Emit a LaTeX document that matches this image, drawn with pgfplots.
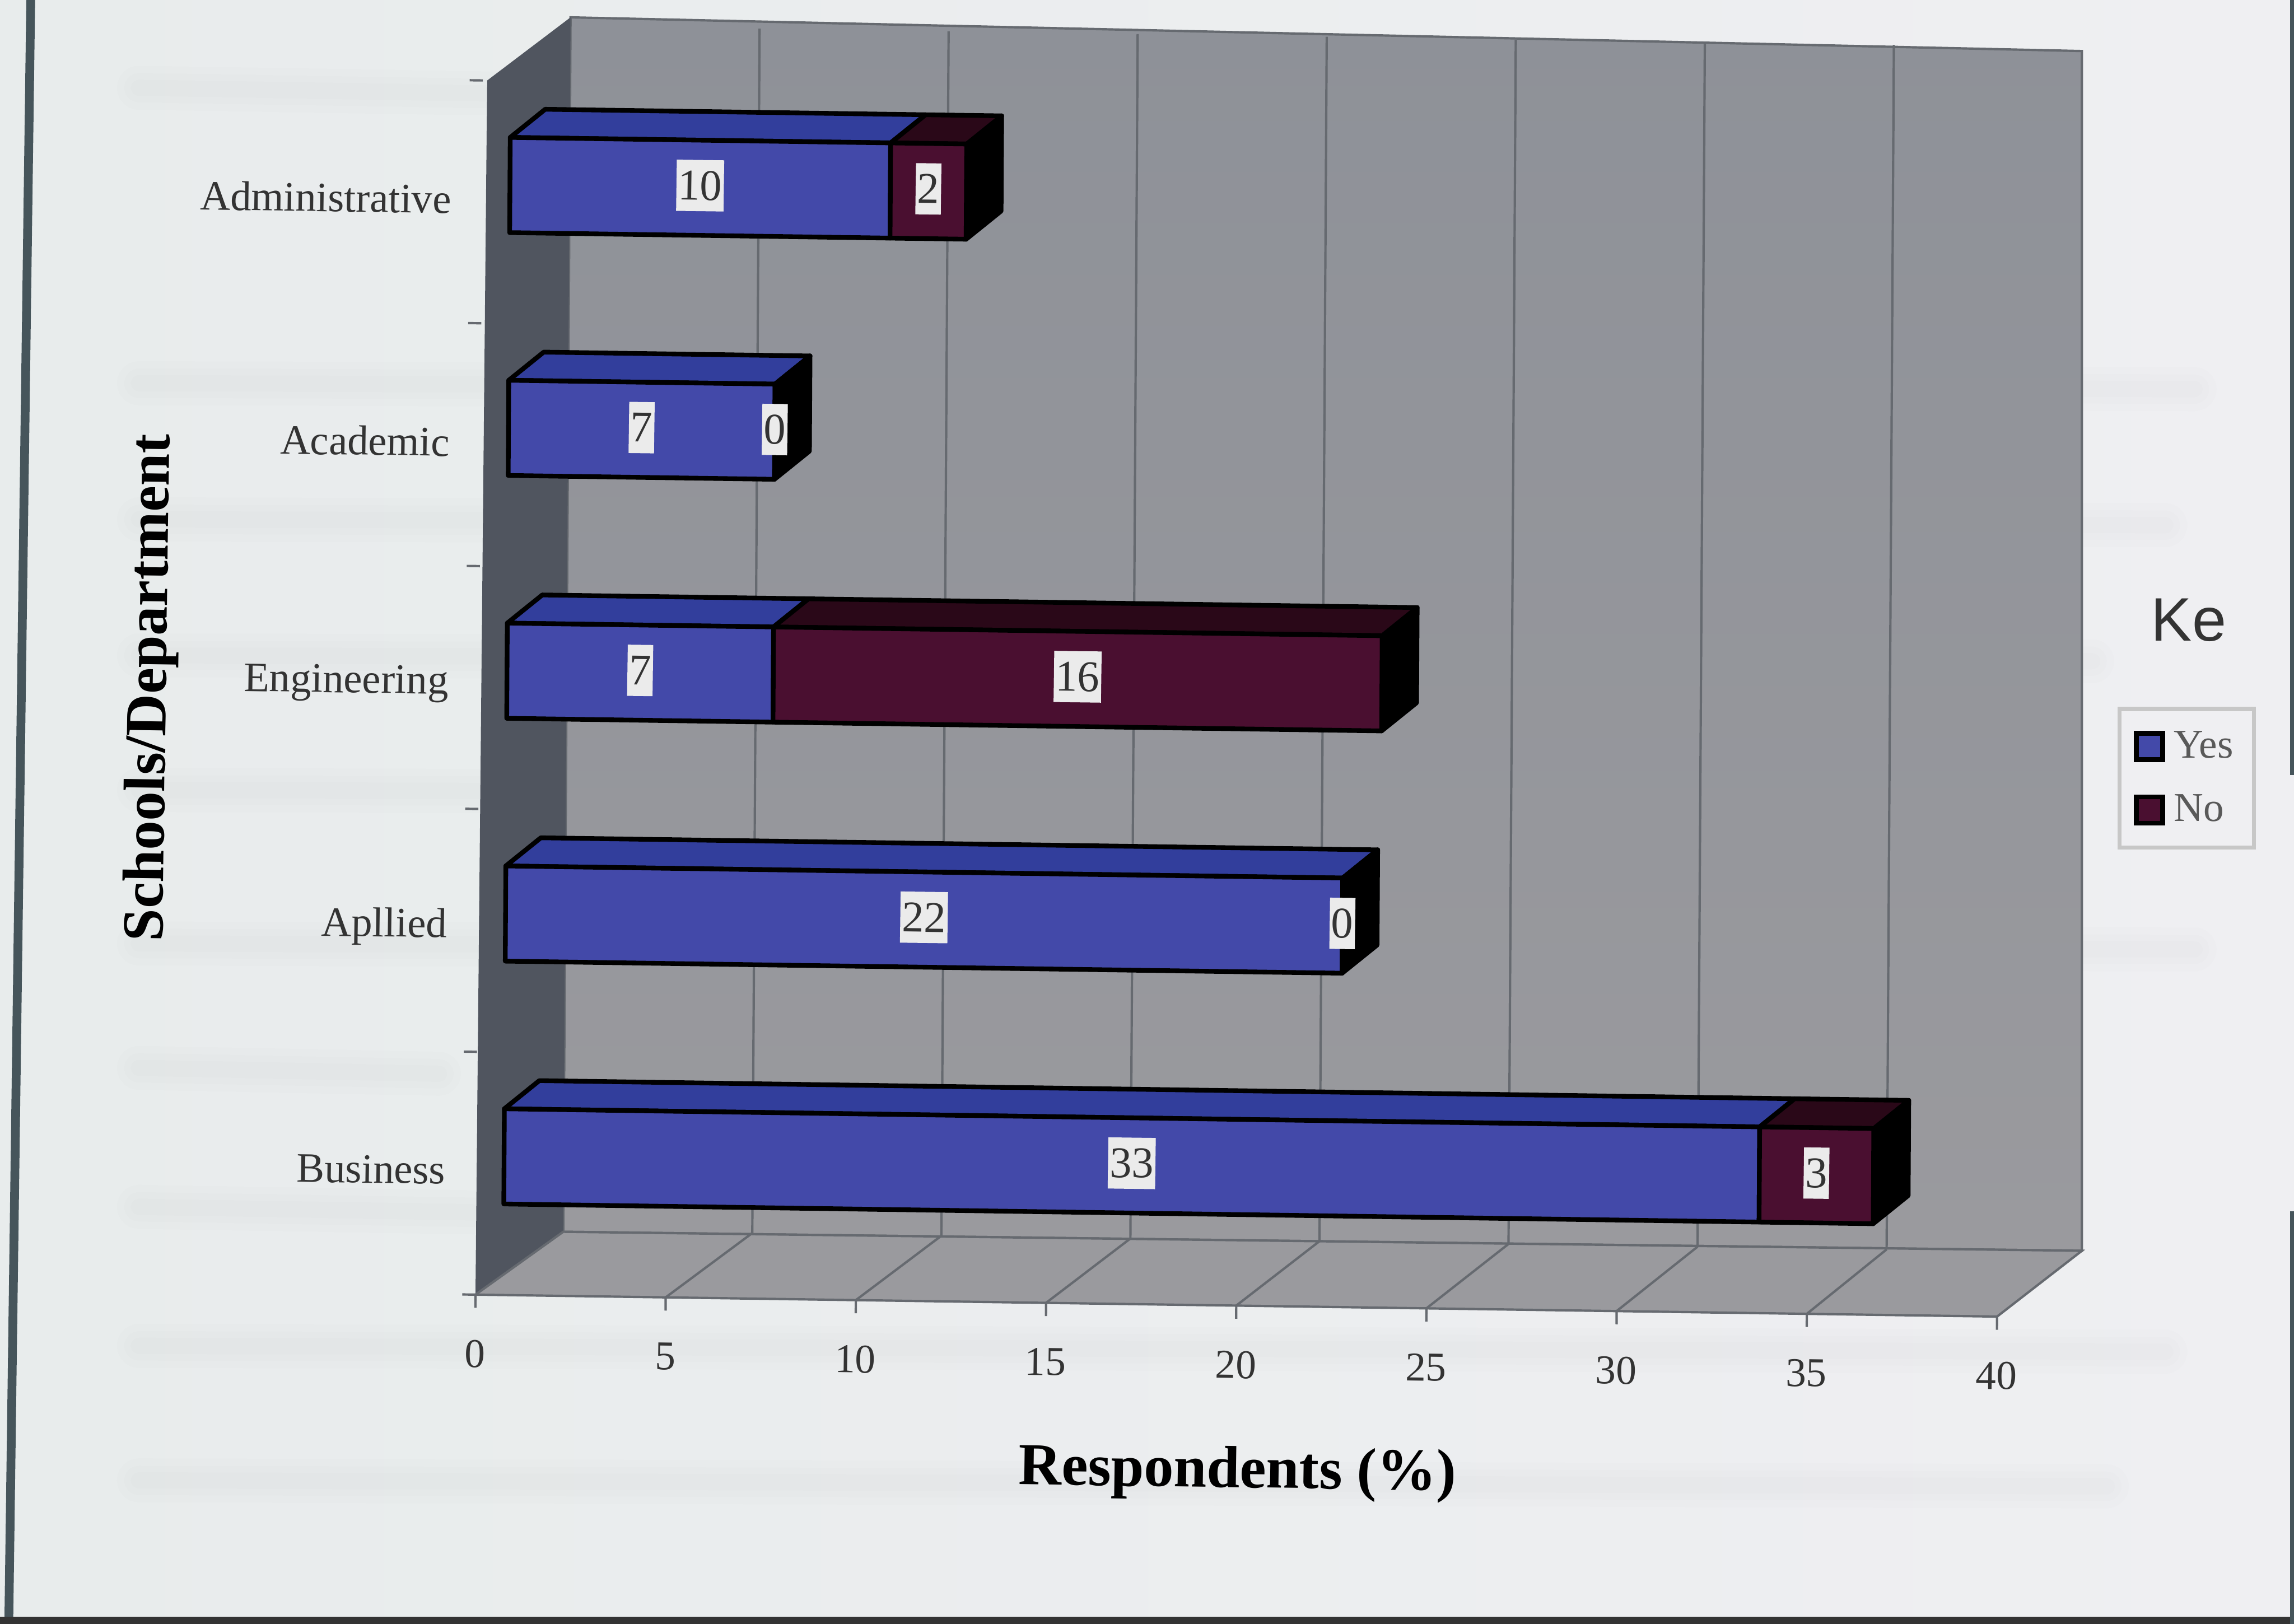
\documentclass[border=0pt]{standalone}
\usepackage{pgfplots}
\usepackage{pgfplotstable}
\usepackage{fontspec}
\pgfplotsset{compat=1.18}
\setmainfont{Liberation Serif}
\newfontfamily\keyfont{Liberation Sans}

\definecolor{yesfront}{HTML}{4349A9}
\definecolor{yestop}{HTML}{323E9C}
\definecolor{nofront}{HTML}{4A0F30}
\definecolor{notop}{HTML}{2A0818}
\definecolor{wallback}{HTML}{8E9198}
\definecolor{wallside}{HTML}{50555F}
\definecolor{wallfloor}{HTML}{9A9A9E}
\definecolor{edgegrey}{HTML}{666A70}
\definecolor{inkgrey}{HTML}{333333}
\definecolor{paperleft}{HTML}{E8ECEC}
\definecolor{paperright}{HTML}{EFEFF2}
\definecolor{sheetedge}{HTML}{46555B}

% Percentages of respondents per school or department
\pgfplotstableread{
row yes no
0   33  3
1   22  0
2   7   16
3   7   0
4   10  2
}\respondents

% Depth of the bars, expressed in axis units
\def\barx{0.73}
\def\bardx{0.915}
\def\bardy{0.118}

% One stacked three-dimensional bar
\newcommand\drawschool[1]{%
  \pgfplotstablegetelem{#1}{yes}\of\respondents\edef\yesval{\pgfplotsretval}%
  \pgfplotstablegetelem{#1}{no}\of\respondents\edef\noval{\pgfplotsretval}%
  \pgfmathsetmacro\ybot{#1+0.375}%
  \pgfmathsetmacro\ytop{#1+0.767}%
  \pgfmathsetmacro\ymid{#1+0.58}%
  \pgfmathsetmacro\ya{\ytop+\bardy}%
  \pgfmathsetmacro\yb{\ybot+\bardy}%
  \pgfmathsetmacro\xs{\barx}%
  \pgfmathsetmacro\xm{\barx+\yesval}%
  \pgfmathsetmacro\xe{\barx+\yesval+\noval}%
  \pgfmathsetmacro\xsb{\xs+\bardx}%
  \pgfmathsetmacro\xmb{\xm+\bardx}%
  \pgfmathsetmacro\xeb{\xe+\bardx}%
  \pgfmathsetmacro\xlabA{\barx+\yesval/2}%
  \pgfmathsetmacro\xlabB{\barx+\yesval+\noval/2}%
  % side face
  \addplot[fill=black,draw=black,barline,forget plot] coordinates
    {(\xe,\ybot) (\xe,\ytop) (\xeb,\ya) (\xeb,\yb)} -- cycle;
  % top faces
  \addplot[fill=yestop,draw=black,barline,forget plot] coordinates
    {(\xs,\ytop) (\xm,\ytop) (\xmb,\ya) (\xsb,\ya)} -- cycle;
  \addplot[fill=notop,draw=black,barline,forget plot] coordinates
    {(\xm,\ytop) (\xe,\ytop) (\xeb,\ya) (\xmb,\ya)} -- cycle;
  % front faces
  \addplot[fill=yesfront,draw=black,barline,forget plot] coordinates
    {(\xs,\ybot) (\xm,\ybot) (\xm,\ytop) (\xs,\ytop)} -- cycle;
  \addplot[fill=nofront,draw=black,barline,forget plot] coordinates
    {(\xm,\ybot) (\xe,\ybot) (\xe,\ytop) (\xm,\ytop)} -- cycle;
  % value labels
  \edef\tmp{\noexpand\node[valuelabel] at (axis cs:\xlabA,\ymid) {\yesval};
            \noexpand\node[valuelabel] at (axis cs:\xlabB,\ymid) {\noval};}%
  \tmp
}

% Show-through from the reverse of the printed sheet
\newcommand\ghost[3]{%
  \foreach \w in {30,20,11}
    \draw[black!45,line width=\w*0.5pt,opacity=0.016,line cap=round]
      (#1*0.5pt,555pt-#3*0.5pt) -- (#2*0.5pt,555pt-#3*0.5pt-2pt);
}

\tikzset{
  barline/.style={line width=1.6pt,line join=round},
  valuelabel/.style={fill=white!92!black,text=inkgrey,inner xsep=0.6pt,inner ysep=0pt,
    minimum height=17.5pt,font=\fontsize{15}{15}\selectfont,rotate=-0.8}}

\begin{document}
\begin{tikzpicture}
  \path[use as bounding box] (0,0) rectangle (784pt,555pt);
  \shade[left color=paperleft,right color=paperright] (0,0) rectangle (784pt,555pt);
  \ghost{95}{340}{60}
  \ghost{95}{1500}{262}
  \ghost{95}{1480}{355}
  \ghost{95}{1430}{448}
  \ghost{95}{1400}{540}
  \ghost{95}{1500}{645}
  \ghost{95}{300}{730}
  \ghost{95}{340}{825}
  \ghost{95}{1480}{920}
  \ghost{95}{1440}{1012}
  % sheet edges
  \draw[color=sheetedge,line width=3pt] (10.5pt,555pt) -- (3pt,0pt);
  \fill[black!80] (0,0) rectangle (784pt,2.5pt);
  \fill[sheetedge] (782.6pt,290pt) rectangle (784pt,555pt);
  \fill[sheetedge] (782.6pt,0pt) rectangle (784pt,141pt);

  \begin{axis}[
    x={(13pt,-0.1875pt)}, y={(0.5pt,83pt)},
    at={(162.5pt,112.5pt)}, anchor=origin,
    xmin=0, xmax=40, ymin=0, ymax=5,
    clip=false,
    axis x line=bottom, axis y line=left,
    axis line style={draw=none,-},
    tick align=outside, xtick pos=left, ytick pos=left,
    major tick length=4.5pt,
    tick style={draw=edgegrey,line width=0.8pt},
    xtick={0,5,...,40},
    ytick={0,1,2,3,4,5}, yticklabels={},
    extra y ticks={0.51,1.51,2.51,3.51,4.51},
    extra y tick labels={Business,Apllied,Engineering,Academic,Administrative},
    extra y tick style={tick style={draw=none}},
    /pgf/number format/assume math mode=true,
    xticklabel style={font=\fontsize{14}{14}\selectfont,text=inkgrey,rotate=-0.8,yshift=-7.5pt},
    yticklabel style={font=\fontsize{14.3}{14.3}\selectfont,text=inkgrey,rotate=-0.8,xshift=-2.5pt},
    xlabel={Respondents (\%)},
    ylabel={Schools/Department},
    xlabel style={at={(axis cs:20.06,-0.69)},anchor=center,rotate=-0.8,
      font=\fontsize{20.3}{20.3}\selectfont\bfseries},
    ylabel style={at={(axis cs:-8.6,2.48)},anchor=center,rotate=-0.8,
      font=\fontsize{20}{20}\selectfont\bfseries},
    legend style={at={(axis cs:44.9,2.228)},anchor=center,draw=black!22,line width=1.4pt,
      fill=paperright,font=\fontsize{14}{14}\selectfont,text=black!65,
      inner xsep=5pt,inner ysep=5.5pt,row sep=7pt,
      /tikz/every odd column/.append style={column sep=1pt}},
    legend image code/.code={
      \draw[#1] (0pt,-4.5pt) rectangle (9pt,4.5pt);
    },
    legend cell align=left,
  ]
    % chart walls and floor
    \addplot[shade,top color=wallback,bottom color=wallfloor,draw=edgegrey,line width=0.8pt,forget plot]
      coordinates {(2.297,0.264) (42.22,0.276) (42.03,5.216) (2.297,5.265)} -- cycle;
    \addplot[fill=wallside,draw=none,forget plot]
      coordinates {(0,0) (0.115,5) (2.297,5.265) (2.297,0.264)} -- cycle;
    \addplot[fill=wallfloor,draw=edgegrey,line width=0.8pt,forget plot]
      coordinates {(0,0) (40,0) (42.22,0.276) (2.297,0.264)} -- cycle;
    % grid on the back wall and the floor
    \pgfplotsinvokeforeach{5,10,15,20,25,30,35}{
      \addplot[draw=edgegrey,line width=0.8pt,forget plot]
        coordinates {(#1*0.994+2.297,0.27) (#1*0.994+2.297,5.23)};
      \addplot[draw=edgegrey,line width=0.8pt,forget plot]
        coordinates {(#1,0) (#1*0.994+2.297,0.27)};
    }
    \drawschool{4}
    \drawschool{3}
    \drawschool{2}
    \drawschool{1}
    \drawschool{0}
    \addlegendimage{fill=yesfront,draw=black,line width=1.6pt}
    \addlegendentry{Yes}
    \addlegendimage{fill=nofront,draw=black,line width=1.6pt}
    \addlegendentry{No}
  \end{axis}
  \node[font=\keyfont\fontsize{21}{21}\selectfont,text=black!80] at (748pt,343pt) {Ke};
\end{tikzpicture}
\end{document}
